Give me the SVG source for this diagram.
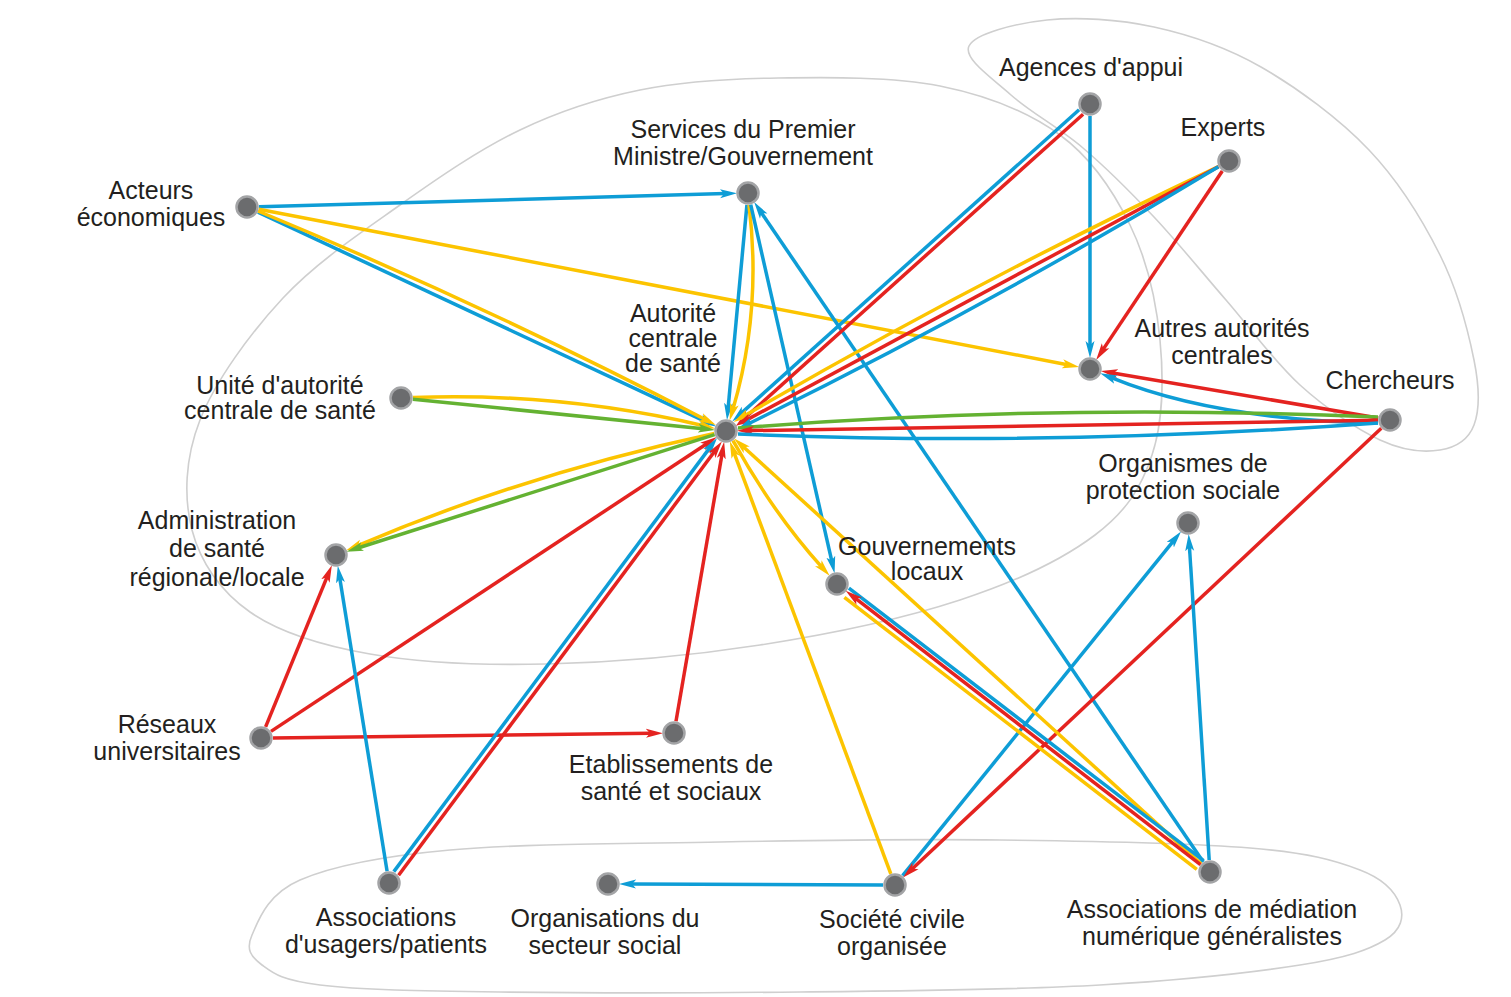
<svg xmlns="http://www.w3.org/2000/svg" width="1511" height="997" viewBox="0 0 1511 997">
<style>
.bg{fill:#ffffff}
.outline{fill:none;stroke:#cfcfcf;stroke-width:1.6}
.e{fill:none;stroke-width:3.5}
.b{stroke:#0e9dd6}.y{stroke:#fcc400}.r{stroke:#e42320}.g{stroke:#64b232}
.ab{marker-end:url(#mb)}.ay{marker-end:url(#my)}.ar{marker-end:url(#mr)}.ag{marker-end:url(#mg)}
.node circle{fill:#6b6c6e;stroke:#a3a4a6;stroke-width:2.5}
text{font-family:"Liberation Sans",Arial,sans-serif;font-size:25px;fill:#231f20;text-anchor:middle}
</style>
<defs>
<marker id="mb" viewBox="0 0 17 10" refX="5" refY="5" markerWidth="17" markerHeight="10" markerUnits="userSpaceOnUse" orient="auto"><path d="M0,0.5 L17,5 L0,9.5 L4,5 Z" fill="#0e9dd6"/></marker>
<marker id="my" viewBox="0 0 17 10" refX="5" refY="5" markerWidth="17" markerHeight="10" markerUnits="userSpaceOnUse" orient="auto"><path d="M0,0.5 L17,5 L0,9.5 L4,5 Z" fill="#fcc400"/></marker>
<marker id="mr" viewBox="0 0 17 10" refX="5" refY="5" markerWidth="17" markerHeight="10" markerUnits="userSpaceOnUse" orient="auto"><path d="M0,0.5 L17,5 L0,9.5 L4,5 Z" fill="#e42320"/></marker>
<marker id="mg" viewBox="0 0 17 10" refX="5" refY="5" markerWidth="17" markerHeight="10" markerUnits="userSpaceOnUse" orient="auto"><path d="M0,0.5 L17,5 L0,9.5 L4,5 Z" fill="#64b232"/></marker>
</defs>
<rect class="bg" x="0" y="0" width="1511" height="997"/>
<g id="outlines">
<path class="outline" d="M778,78 C828,77.3 893,76.5 940,86 C987,95.5 1028.3,111.8 1060,135 C1091.7,158.2 1113.3,190.8 1130,225 C1146.7,259.2 1156.3,301.7 1160,340 C1163.7,378.3 1162.8,422.5 1152,455 C1141.2,487.5 1127,510.8 1095,535 C1063,559.2 1015.8,581.7 960,600 C904.2,618.3 829,634.3 760,645 C691,655.7 611,662.5 546,664 C481,665.5 419.3,662.7 370,654 C320.7,645.3 279.7,632.7 250,612 C220.3,591.3 200.3,562 192,530 C183.7,498 184.8,458.7 200,420 C215.2,381.3 249.7,333.8 283,298 C316.3,262.2 360.5,233 400,205 C439.5,177 480,149.2 520,130 C560,110.8 597,98.7 640,90 C683,81.3 728,78.7 778,78 Z"/>
<path class="outline" d="M969,46 C975,33.5 1016.2,23.2 1047,20 C1077.8,16.8 1118.3,19.2 1154,27 C1189.7,34.8 1225.2,46.5 1261,67 C1296.8,87.5 1339.2,118.7 1369,150 C1398.8,181.3 1422.5,220 1440,255 C1457.5,290 1468.3,331.7 1474,360 C1479.7,388.3 1479.7,410 1474,425 C1468.3,440 1455.7,447.5 1440,450 C1424.3,452.5 1403.3,450.8 1380,440 C1356.7,429.2 1325.7,408.3 1300,385 C1274.3,361.7 1250.3,328 1226,300 C1201.7,272 1177.8,242.3 1154,217 C1130.2,191.7 1106.8,168.3 1083,148 C1059.2,127.7 1030,112 1011,95 C992,78 963,58.5 969,46 Z"/>
<path class="outline" d="M252,935 C258.3,920.8 267,894.2 300,880 C333,865.8 380,856.3 450,850 C520,843.7 628.3,843.7 720,842 C811.7,840.3 911.7,839 1000,840 C1088.3,841 1190,843 1250,848 C1310,853 1335,860.5 1360,870 C1385,879.5 1395.8,893.3 1400,905 C1404.2,916.7 1401.7,930 1385,940 C1368.3,950 1347.5,957.5 1300,965 C1252.5,972.5 1183.3,980 1100,985 C1016.7,990 900,991 800,992 C700,993 580,993 500,992 C420,991 359.7,990 320,985 C280.3,980 273.3,973.3 262,965 C250.7,956.7 245.7,949.2 252,935 Z"/>
</g>
<g id="connectors">
<path class="e b ab" d="M259,206.7 L725,193.6"/>
<path class="e b ab" d="M257.9,212.1 L705.2,421.3"/>
<path class="e y ay" d="M257.9,211 Q486.6,305.8 705.2,419.5"/>
<path class="e y ay" d="M258.8,209.3 L1067.4,364.7"/>
<path class="e b ab" d="M746.9,205 L728.1,408.1"/>
<path class="e y ay" d="M749,205 Q762,310 733,409"/>
<path class="e b ab" d="M750.7,204.7 L831.9,561.6"/>
<path class="e b ab" d="M1203.3,862.1 L760.9,212"/>
<path class="e y ay" d="M413,397.5 Q560,392 703.6,425.7"/>
<path class="e g ag" d="M412.9,399.2 L703.1,428.7"/>
<path class="e y ay" d="M714.3,433.5 Q525,474 357.1,545.9"/>
<path class="e g ag" d="M714.6,434.6 L357.9,548"/>
<path class="e r ar" d="M265.6,726.9 L327.3,576.3"/>
<path class="e r ar" d="M271,731.4 L706.8,443.7"/>
<path class="e r ar" d="M273,737.9 L651,733.3"/>
<path class="e b ab" d="M387.1,871.2 L339.7,577.7"/>
<path class="e b ab" d="M393.8,871.6 L709.9,447.6"/>
<path class="e r ar" d="M398.6,875.2 L714.7,451.2"/>
<path class="e r ar" d="M676,721.2 L722.1,453.7"/>
<path class="e b ab" d="M883,885 L631,884.1"/>
<path class="e y ay" d="M890.8,873.8 L734,452.6"/>
<path class="e b ab" d="M902.6,875.7 L1173.5,540.9"/>
<path class="e r ar" d="M1381.3,428.2 L911.8,869.3"/>
<path class="e b ab" d="M1209.2,860 L1189.4,546"/>
<path class="e y ay" d="M1201.1,863.9 L743,446.5"/>
<path class="e y" d="M1196.8,869.4 L844.4,597.3"/>
<path class="e b" d="M1203.6,860.7 L848.9,588.1"/>
<path class="e r ar" d="M1200.5,864.7 L855.2,598.1"/>
<path class="e y ay" d="M733,440.7 Q773.4,513.4 821.6,566.9"/>
<path class="e b ab" d="M1090,116 L1090,346"/>
<path class="e b ab" d="M1079.1,109.8 L741.1,413.4"/>
<path class="e r ar" d="M1083.1,114.2 L745.1,417.8"/>
<path class="e y ay" d="M1218.4,166.7 Q975.8,281.1 744,416"/>
<path class="e r ar" d="M1218.4,166.7 L746.3,420.1"/>
<path class="e b ab" d="M1218.4,166.7 Q989,305.7 748,424"/>
<path class="e r ar" d="M1222.3,171 L1102.8,349.9"/>
<path class="e r ar" d="M1378.2,418 L1112.7,372.9"/>
<path class="e b ab" d="M1378,423 Q1215,420 1111.3,377.7"/>
<path class="e g" d="M1378,417 Q1050,403 738,428"/>
<path class="e r ar" d="M1378,420.2 L749,430.6"/>
<path class="e b" d="M1378,423 Q1050,447 738,434"/>
</g>
<g id="n-services" class="node"><circle cx="748" cy="193" r="10.5"/><text x="743" y="138">Services du Premier</text><text x="743" y="165">Ministre/Gouvernement</text></g>
<g id="n-acteurs" class="node"><circle cx="247" cy="207" r="10.5"/><text x="151" y="199">Acteurs</text><text x="151" y="226">économiques</text></g>
<g id="n-centrale" class="node"><circle cx="726" cy="431" r="10.5"/><text x="673" y="322">Autorité</text><text x="673" y="347">centrale</text><text x="673" y="372">de santé</text></g>
<g id="n-unite" class="node"><circle cx="401" cy="398" r="10.5"/><text x="280" y="394">Unité d'autorité</text><text x="280" y="419">centrale de santé</text></g>
<g id="n-admin" class="node"><circle cx="336" cy="555" r="10.5"/><text x="217" y="529">Administration</text><text x="217" y="557">de santé</text><text x="217" y="586">régionale/locale</text></g>
<g id="n-reseaux" class="node"><circle cx="261" cy="738" r="10.5"/><text x="167" y="733">Réseaux</text><text x="167" y="760">universitaires</text></g>
<g id="n-etab" class="node"><circle cx="674" cy="733" r="10.5"/><text x="671" y="773">Etablissements de</text><text x="671" y="800">santé et sociaux</text></g>
<g id="n-usagers" class="node"><circle cx="389" cy="883" r="10.5"/><text x="386" y="926">Associations</text><text x="386" y="953">d'usagers/patients</text></g>
<g id="n-orgsocial" class="node"><circle cx="608" cy="884" r="10.5"/><text x="605" y="927">Organisations du</text><text x="605" y="954">secteur social</text></g>
<g id="n-societe" class="node"><circle cx="895" cy="885" r="10.5"/><text x="892" y="928">Société civile</text><text x="892" y="955">organisée</text></g>
<g id="n-mediation" class="node"><circle cx="1210" cy="872" r="10.5"/><text x="1212" y="918">Associations de médiation</text><text x="1212" y="945">numérique généralistes</text></g>
<g id="n-gouv" class="node"><circle cx="837" cy="584" r="10.5"/><text x="927" y="555">Gouvernements</text><text x="927" y="580">locaux</text></g>
<g id="n-protection" class="node"><circle cx="1188" cy="523" r="10.5"/><text x="1183" y="472">Organismes de</text><text x="1183" y="499">protection sociale</text></g>
<g id="n-chercheurs" class="node"><circle cx="1390" cy="420" r="10.5"/><text x="1390" y="389">Chercheurs</text></g>
<g id="n-autres" class="node"><circle cx="1090" cy="369" r="10.5"/><text x="1222" y="337">Autres autorités</text><text x="1222" y="364">centrales</text></g>
<g id="n-experts" class="node"><circle cx="1229" cy="161" r="10.5"/><text x="1223" y="136">Experts</text></g>
<g id="n-agences" class="node"><circle cx="1090" cy="104" r="10.5"/><text x="1091" y="76">Agences d'appui</text></g>
</svg>
